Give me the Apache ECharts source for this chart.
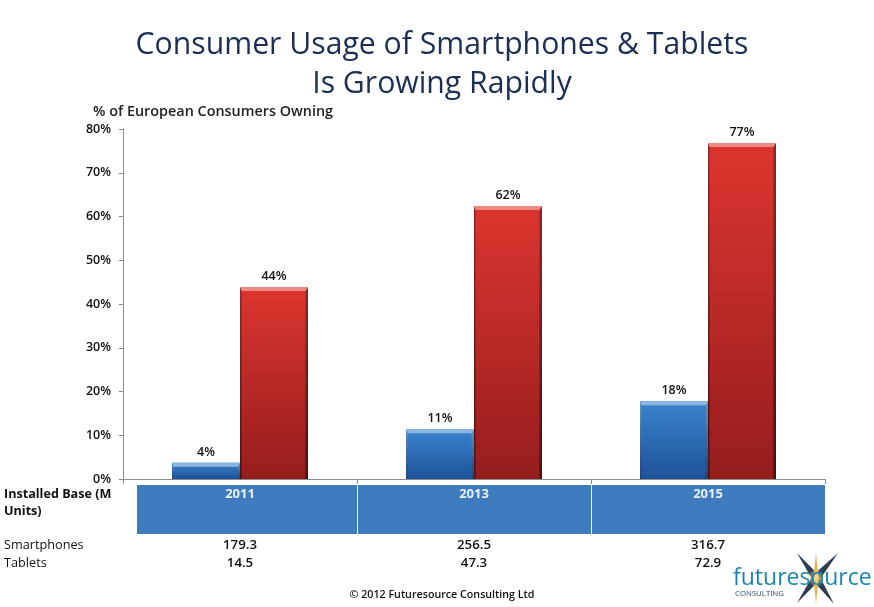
<!DOCTYPE html>
<html>
<head>
<meta charset="utf-8">
<style>html,body{margin:0;padding:0;background:#fff}#chart{width:874px;height:607px}</style>
<script src="https://cdn.jsdelivr.net/npm/echarts@6/dist/echarts.min.js"></script>
</head>
<body>
<div id="chart"></div>
<script>
const years = ['2011', '2013', '2015'];
const smartOwning = [43.9, 62.4, 76.8];
const tabletOwning = [3.7, 11.4, 17.8];
const smartBase = ['179.3', '256.5', '316.7'];
const tabletBase = ['14.5', '47.3', '72.9'];

const FONT = 'Open Sans, "DejaVu Sans", sans-serif';
const TITLE_COLOR = '#1b2f55';

// 柱子：主体渐变 + 顶部高光 + 左右暗边
function barRender(side, colors) {
    return (params, api) => {
        const val = api.value(1);
        const top = api.coord([api.value(0), val]);
        const base = api.coord([api.value(0), 0]);
        const bw = api.size([1, 0])[0] * 68 / 234;
        const x = side < 0 ? top[0] - bw : top[0];
        const y = top[1];
        const h = base[1] - y;
        const grad = new echarts.graphic.LinearGradient(0, 0, 0, 1, [
            { offset: 0, color: colors[0] },
            { offset: 1, color: colors[1] }
        ]);
        const edge = new echarts.graphic.LinearGradient(0, 0, 0, 1, [
            { offset: 0, color: colors[2] },
            { offset: 1, color: colors[3] }
        ]);
        return {
            type: 'group',
            children: [
                { type: 'rect', shape: { x, y, width: bw, height: h }, style: { fill: grad } },
                { type: 'rect', shape: { x, y: y + 1, width: 1.5, height: h - 1 }, style: { fill: edge } },
                { type: 'rect', shape: { x: x + bw - 2.5, y: y + 1, width: 2.5, height: h - 1 }, style: { fill: edge } },
                { type: 'polygon', shape: { points: [[x, y], [x + bw, y], [x + bw - 2.5, y + 4], [x + 1.5, y + 4]] }, style: { fill: colors[4] } },
                {
                    type: 'text',
                    style: {
                        x: x + bw / 2, y: y - 4, text: Math.round(val) + '%', align: 'center', verticalAlign: 'bottom',
                        font: '600 12.5px ' + FONT, fill: '#111'
                    }
                }
            ]
        };
    };
}

const myChart = echarts.init(document.getElementById('chart'), null, { renderer: 'canvas' });

const gridLeft = 123, gridTop = 129, gridW = 702, gridH = 350;

myChart.setOption({
    animation: false,
    backgroundColor: '#fff',
    title: [
        { text: 'Consumer Usage of Smartphones & Tablets', left: 437, top: 25, textAlign: 'center', textStyle: { fontFamily: FONT, fontSize: 30.2, fontWeight: 400, color: TITLE_COLOR } },
        { text: 'Is Growing Rapidly', left: 437, top: 64, textAlign: 'center', textStyle: { fontFamily: FONT, fontSize: 30.2, fontWeight: 400, color: TITLE_COLOR } },
        { text: '% of European Consumers Owning', left: 88, top: 100, textStyle: { fontFamily: FONT, fontSize: 14.4, fontWeight: 600, color: '#222' } }
    ],
    grid: { left: gridLeft, top: gridTop, width: gridW, height: gridH, containLabel: false },
    xAxis: {
        type: 'category',
        data: years,
        axisLine: { lineStyle: { color: '#8c8c8c', width: 1 } },
        axisTick: { show: true, length: 5, lineStyle: { color: '#8c8c8c' } },
        axisLabel: { show: false }
    },
    yAxis: {
        type: 'value',
        min: 0,
        max: 80,
        interval: 10,
        axisLine: { show: true, lineStyle: { color: '#8c8c8c', width: 1 } },
        axisTick: { show: true, length: 4, lineStyle: { color: '#8c8c8c' } },
        splitLine: { show: false },
        axisLabel: { formatter: '{value}%', margin: 12, fontFamily: FONT, fontSize: 12.5, fontWeight: 600, color: '#111' }
    },
    series: [
        {
            type: 'custom',
            name: 'Tablets',
            renderItem: barRender(-1, ['#3a84cc', '#1d5299', '#5f92c8', '#1b4276', '#8ab8e2']),
            encode: { x: 0, y: 1 },
            data: years.map((y, i) => [i, tabletOwning[i]]),
            z: 3
        },
        {
            type: 'custom',
            name: 'Smartphones',
            renderItem: barRender(1, ['#dd352f', '#941d1d', '#8a2a2a', '#4a0f10', '#ea8a80']),
            encode: { x: 0, y: 1 },
            data: years.map((y, i) => [i, smartOwning[i]]),
            z: 4
        }
    ]
});

// 表格部分按类目轴定位
const centers = years.map((y, i) => myChart.convertToPixel({ xAxisIndex: 0 }, i));
const bandLeft = 137, bandRight = gridLeft + gridW, bandTop = 485, bandBottom = 534;
const textEl = (x, y, text, align, font, fill) => ({
    type: 'text', x, y, style: { text, align, verticalAlign: 'middle', font, fill }
});
const cellFont = '600 13.3px ' + FONT;
const rowFont = '700 12.6px ' + FONT;
const elements = [
    { type: 'rect', shape: { x: bandLeft, y: bandTop, width: bandRight - bandLeft, height: bandBottom - bandTop }, style: { fill: '#3f7cbf' } }
];
centers.forEach((cx, i) => {
    if (i < centers.length - 1) {
        const div = (cx + centers[i + 1]) / 2;
        elements.push({ type: 'rect', shape: { x: div, y: bandTop, width: 1, height: bandBottom - bandTop }, style: { fill: '#fff' } });
    }
    elements.push(textEl(cx, 494, years[i], 'center', '700 13px ' + FONT, '#e8f1fa'));
    elements.push(textEl(cx, 545, smartBase[i], 'center', cellFont, '#111'));
    elements.push(textEl(cx, 563, tabletBase[i], 'center', cellFont, '#111'));
});
// 右下角 logo，放射状的叉形
const logoX = 816, logoY = 578;
const spike = (tx, ty, w, fill) => {
    const dx = tx - logoX, dy = ty - logoY, len = Math.hypot(dx, dy);
    const nx = -dy / len * w, ny = dx / len * w;
    return { type: 'polygon', shape: { points: [[logoX + nx, logoY + ny], [tx, ty], [logoX - nx, logoY - ny]] }, style: { fill } };
};
elements.push(
    textEl(4, 494, 'Installed Base (M', 'left', rowFont, '#111'),
    textEl(4, 511, 'Units)', 'left', rowFont, '#111'),
    textEl(4, 545, 'Smartphones', 'left', '400 12.7px ' + FONT, '#111'),
    textEl(4, 563, 'Tablets', 'left', '400 12.7px ' + FONT, '#111'),
    textEl(442, 595, '© 2012 Futuresource Consulting Ltd', 'center', '600 10.7px ' + FONT, '#111'),
    spike(797, 553, 4, '#2d3c55'),
    spike(838, 553, 4, '#2d3c55'),
    spike(797, 603, 4, '#2d3c55'),
    spike(834, 604, 4, '#2d3c55'),
    spike(816, 553, 2.5, '#e9b04a'),
    spike(816, 604, 2.5, '#e9b04a'),
    { type: 'circle', shape: { cx: logoX, cy: logoY, r: 9 }, style: { fill: new echarts.graphic.RadialGradient(0.5, 0.5, 0.5, [{ offset: 0, color: 'rgba(255,225,140,1)' }, { offset: 1, color: 'rgba(255,225,140,0)' }]) } },
    textEl(733, 578, 'futuresource', 'left', '400 23px ' + FONT, '#1b86ad'),
    textEl(735, 594, 'CONSULTING', 'left', '400 7.8px ' + FONT, '#2f4a6a')
);
myChart.setOption({ graphic: { elements } });
</script>
</body>
</html>
